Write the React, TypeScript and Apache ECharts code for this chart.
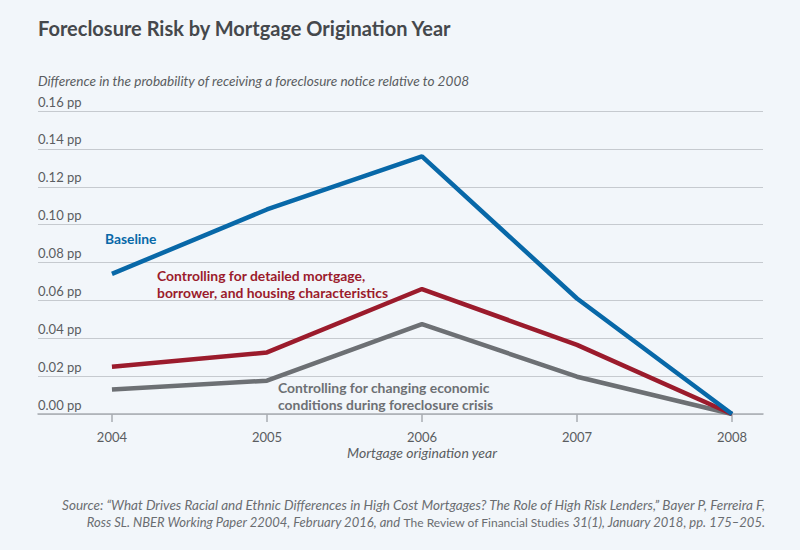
import { useEffect, useRef } from "react";
import * as echarts from "echarts";

const years = [2004, 2005, 2006, 2007, 2008];
const baseline = [0.074, 0.108, 0.136, 0.061, 0];
const mortgageCtrl = [0.025, 0.0325, 0.066, 0.0365, 0];
const economicCtrl = [0.013, 0.0176, 0.0475, 0.0197, 0];
const yTicks = [0, 0.02, 0.04, 0.06, 0.08, 0.1, 0.12, 0.14, 0.16];

const FONT = "Lato, 'Open Sans', sans-serif";
const BLUE = "#0868a8";
const RED = "#9b1b2c";
const GRAY = "#6d7074";
const TEXT = "#5a5d61";

const pair = (vals: number[]) => years.map((y, i) => [y, vals[i]]);

export default function App() {
  const ref = useRef<HTMLDivElement>(null);

  useEffect(() => {
    const el = ref.current;
    if (!el) return;
    const chart = echarts.init(el, undefined, { renderer: "svg" });
    const lineSeries = (name: string, vals: number[], color: string) => ({
      name,
      type: "line",
      data: pair(vals),
      symbol: "none",
      lineStyle: { color, width: 4.5 },
      z: 3,
    });
    chart.setOption({
      animation: false,
      backgroundColor: "#f2f6fa",
      textStyle: { fontFamily: FONT },
      grid: { left: 38, right: 37, top: 111, bottom: 136 },
      xAxis: {
        type: "value",
        min: 2003.523,
        max: 2008.2,
        axisLine: { lineStyle: { color: "#a9adb2", width: 1.5 } },
        axisTick: {
          customValues: years,
          length: 8,
          lineStyle: { color: "#a9adb2", width: 1.5 },
        },
        axisLabel: {
          customValues: years,
          color: TEXT,
          fontSize: 13,
          margin: 16,
          fontFamily: FONT,
          formatter: (v: number) => String(v),
        },
        splitLine: { show: false },
      },
      yAxis: {
        type: "value",
        min: 0,
        max: 0.16,
        interval: 0.02,
        axisLine: { show: false },
        axisTick: { show: false },
        axisLabel: {
          inside: true,
          margin: 0,
          verticalAlign: "bottom",
          padding: [0, 0, 3, 0],
          color: TEXT,
          fontSize: 13,
          fontFamily: FONT,
          formatter: (v: number) =>
            yTicks.some((t) => Math.abs(t - v) < 1e-9) ? v.toFixed(2) + " pp" : "",
        },
        splitLine: { lineStyle: { color: "#c6cacf", width: 1.2 } },
      },
      series: [
        lineSeries("Controlling for changing economic conditions", economicCtrl, GRAY),
        lineSeries("Controlling for detailed characteristics", mortgageCtrl, RED),
        lineSeries("Baseline", baseline, BLUE),
      ],
      graphic: [
        {
          type: "text",
          left: 38,
          top: 18,
          style: {
            text: "Foreclosure Risk by Mortgage Origination Year",
            font: `bold 20px ${FONT}`,
            fill: "#45484c",
          },
        },
        {
          type: "text",
          left: 38,
          top: 74,
          style: {
            text: "Difference in the probability of receiving a foreclosure notice relative to 2008",
            font: `italic 13.6px ${FONT}`,
            fill: TEXT,
          },
        },
        {
          type: "text",
          left: 105,
          top: 231,
          style: { text: "Baseline", font: `bold 13.8px ${FONT}`, fill: BLUE },
        },
        {
          type: "text",
          left: 157,
          top: 267,
          style: {
            text: "Controlling for detailed mortgage,\nborrower, and housing characteristics",
            font: `bold 13.9px ${FONT}`,
            lineHeight: 17,
            fill: RED,
          },
        },
        {
          type: "text",
          left: 278,
          top: 379,
          style: {
            text: "Controlling for changing economic\nconditions during foreclosure crisis",
            font: `bold 13.9px ${FONT}`,
            lineHeight: 17,
            fill: GRAY,
          },
        },
        {
          type: "text",
          x: 422,
          y: 452,
          style: {
            text: "Mortgage origination year",
            font: `italic 14px ${FONT}`,
            fill: TEXT,
            align: "center",
            verticalAlign: "middle",
          },
        },
        {
          type: "text",
          x: 765,
          y: 505,
          style: {
            text: "Source: “What Drives Racial and Ethnic Differences in High Cost Mortgages? The Role of High Risk Lenders,” Bayer P, Ferreira F,",
            font: `italic 13.5px ${FONT}`,
            fill: "#6a6d71",
            align: "right",
            verticalAlign: "middle",
          },
        },
        {
          type: "text",
          x: 765,
          y: 522,
          style: {
            text: "{i|Ross SL. NBER Working Paper 22004, February 2016, and }{n|The Review of Financial Studies}{i| 31(1), January 2018, pp. 175–205.}",
            align: "right",
            verticalAlign: "middle",
            rich: {
              i: { font: `italic 13px ${FONT}`, fill: "#6a6d71" },
              n: { font: `12px ${FONT}`, fill: "#6a6d71" },
            },
          },
        },
      ],
    });
    return () => chart.dispose();
  }, []);

  return (
    <div
      ref={ref}
      style={{ position: "fixed", left: 0, top: 0, width: 800, height: 550 }}
    />
  );
}
